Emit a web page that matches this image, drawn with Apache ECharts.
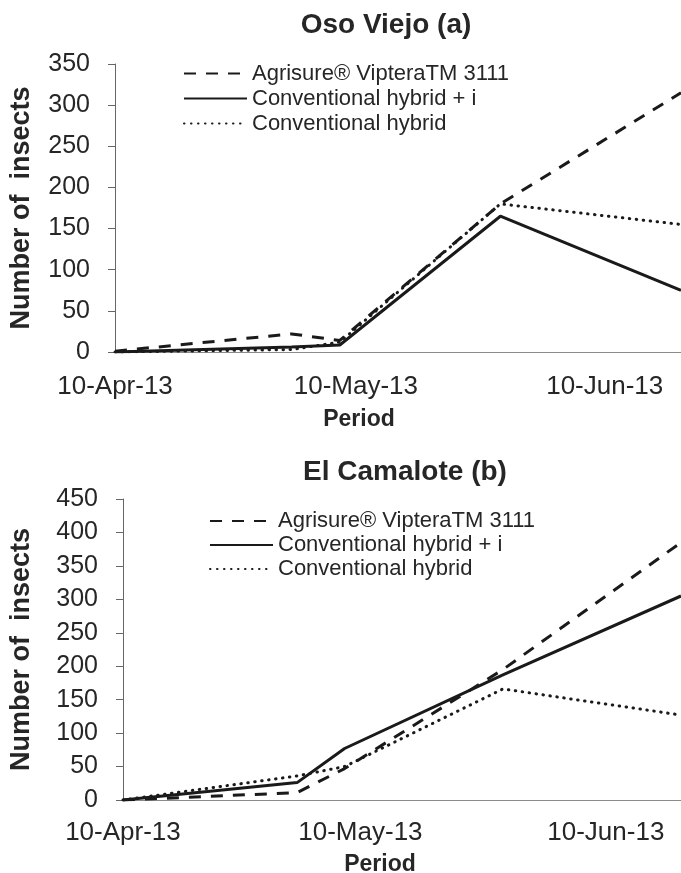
<!DOCTYPE html>
<html>
<head>
<meta charset="utf-8">
<script src="https://cdn.jsdelivr.net/npm/echarts@6/dist/echarts.min.js"></script>
<style>html,body{margin:0;padding:0;background:#fff;}#c{width:681px;height:873px;}</style>
</head>
<body>
<div id="c"></div>
<script>
// ---- data ----
const seriesNames = ['Agrisure\u00AE VipteraTM 3111', 'Conventional hybrid + i', 'Conventional hybrid'];
const sampleDates = ['2013-04-10', '2013-05-02', '2013-05-08', '2013-05-28', '2013-06-19T12:00'];
// Oso Viejo (a)
const osoVipteraValues = [1, 22, 14, 180, 315];
const osoConvIValues   = [0, 6, 8.5, 165, 75];
const osoConvValues    = [0, 3, 12, 180, 155];
// El Camalote (b)
const camVipteraValues = [0, 11, 47, 195, 385];
const camConvIValues   = [0, 26, 77, 187, 305];
const camConvValues    = [0, 36, 50, 166, 127];
// axis ticks
const xTickDates  = ['2013-04-10', '2013-05-10', '2013-06-10'];
const xTickLabels = ['10-Apr-13', '10-May-13', '10-Jun-13'];
const xRange = ['2013-04-09T12:00', '2013-06-19T12:00'];
const panelTitles = ['Oso Viejo (a)', 'El Camalote (b)'];

function ts(s) {
  const [d, t] = s.split('T');
  const [y, m, dd] = d.split('-').map(Number);
  let h = 0, mi = 0;
  if (t) { [h, mi] = t.split(':').map(Number); }
  return Date.UTC(y, m - 1, dd, h, mi);
}
const DAY0 = ts(xTickDates[0]);
function dayNum(s) { return (ts(s) - DAY0) / 86400000; }
const tickDays = xTickDates.map(dayNum);
function pairs(vals) { return sampleDates.map((d, i) => [dayNum(d), vals[i]]); }

const FONT = 'Liberation Sans';
const TXT = '#262626';
const styles = [
  { type: [12, 10], width: 3, cap: 'butt' },
  { type: 'solid', width: 3, cap: 'butt' },
  { type: [0.5, 6.5], width: 3, cap: 'round' }
];

function xAxisFor(gi, margin) {
  return {
    type: 'value', gridIndex: gi, min: dayNum(xRange[0]), max: dayNum(xRange[1]),
    axisLine: { show: true, onZero: false, lineStyle: { color: '#8a8a8a', width: 1 } },
    axisTick: { show: false },
    splitLine: { show: false },
    axisLabel: {
      customValues: tickDays, margin: margin, fontSize: 26, fontFamily: FONT, color: TXT,
      formatter: function (v) {
        let best = 0;
        tickDays.forEach((t, i) => { if (Math.abs(t - v) < Math.abs(tickDays[best] - v)) best = i; });
        return xTickLabels[best];
      }
    }
  };
}
function yAxisFor(gi, max, gap) {
  return {
    type: 'value', gridIndex: gi, min: 0, max: max, interval: 50,
    name: 'Number of  insects', nameLocation: 'middle', nameRotate: 90, nameGap: gap,
    nameTextStyle: { fontSize: 27, fontWeight: 'bold', fontFamily: FONT, color: TXT },
    axisLine: { show: true, lineStyle: { color: '#666', width: 1 } },
    axisTick: { show: true, length: 7, lineStyle: { color: '#666' } },
    splitLine: { show: false },
    axisLabel: { margin: 21, fontSize: 25, fontFamily: FONT, color: TXT }
  };
}
function mkSeries(gi, valsArr) {
  return valsArr.map((vals, i) => ({
    name: seriesNames[i], type: 'line', xAxisIndex: gi, yAxisIndex: gi,
    data: pairs(vals), symbol: 'none', showSymbol: false, silent: true,
    lineStyle: { color: '#1a1a1a', width: styles[i].width, type: styles[i].type, cap: styles[i].cap },
    itemStyle: { color: '#1a1a1a' }, animation: false
  }));
}
function legendFor(left, top, pitch) {
  return {
    orient: 'vertical', left: left, top: top, itemWidth: 63, itemHeight: 12, itemGap: 0,
    selectedMode: false,
    itemStyle: { opacity: 0 },
    textStyle: { fontSize: 22, fontFamily: FONT, color: TXT, lineHeight: pitch },
    data: seriesNames.map(n => ({ name: n }))
  };
}

const chart = echarts.init(document.getElementById('c'), null, { renderer: 'canvas' });
chart.setOption({
  animation: false,
  backgroundColor: '#fff',
  title: [
    { text: panelTitles[0], left: 381, textAlign: 'center', top: 6, textStyle: { fontSize: 28, fontWeight: 'bold', fontFamily: FONT, color: TXT } },
    { text: panelTitles[1], left: 400, textAlign: 'center', top: 453, textStyle: { fontSize: 28, fontWeight: 'bold', fontFamily: FONT, color: TXT } },
    { text: 'Period', left: 354, textAlign: 'center', top: 403, textStyle: { fontSize: 23, fontWeight: 'bold', fontFamily: FONT, color: TXT } },
    { text: 'Period', left: 375, textAlign: 'center', top: 848, textStyle: { fontSize: 23, fontWeight: 'bold', fontFamily: FONT, color: TXT } }
  ],
  legend: [legendFor(178, 56, 25), legendFor(204, 504, 24)],
  grid: [
    { left: 109, right: 0, top: 64, bottom: 873 - 352 },
    { left: 117, right: 0, top: 499, bottom: 873 - 800 }
  ],
  xAxis: [xAxisFor(0, 22), xAxisFor(1, 20)],
  yAxis: [yAxisFor(0, 350, 76), yAxisFor(1, 450, 84)],
  series: [].concat(
    mkSeries(0, [osoVipteraValues, osoConvIValues, osoConvValues]),
    mkSeries(1, [camVipteraValues, camConvIValues, camConvValues])
  )
});
</script>
</body>
</html>
